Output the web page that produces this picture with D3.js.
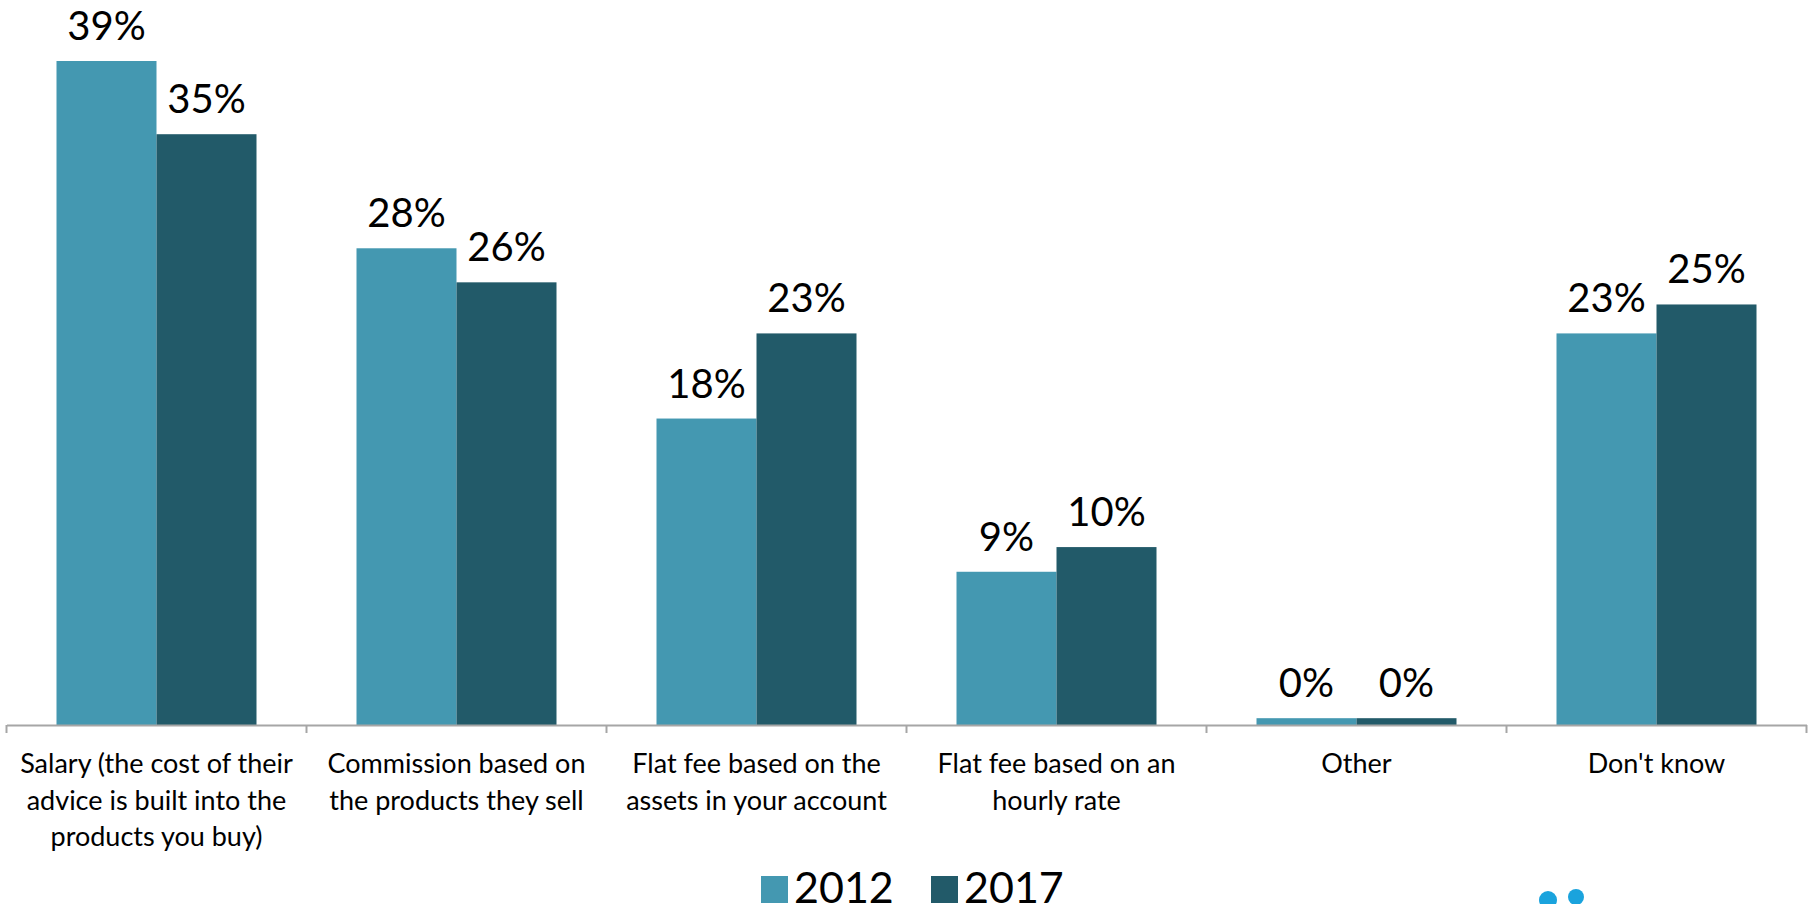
<!DOCTYPE html>
<html>
<head>
<meta charset="utf-8">
<script src="https://cdn.jsdelivr.net/npm/d3@7/dist/d3.min.js"></script>
<style>
  html, body { margin: 0; padding: 0; background: #ffffff; }
  svg { display: block; }
  text { font-family: Lato, "Open Sans", sans-serif; fill: #000; }
</style>
</head>
<body>
<svg id="chart" width="1810" height="904"></svg>
<script>
// ---- data ----
const categories = [
  "Salary (the cost of their\nadvice is built into the\nproducts you buy)",
  "Commission based on\nthe products they sell",
  "Flat fee based on the\nassets in your account",
  "Flat fee based on an\nhourly rate",
  "Other",
  "Don't know"
];
const seriesNames = ["2012", "2017"];
const values2012 = [39, 28, 18, 9, 0.4, 23];
const values2017 = [34.7, 26, 23, 10.45, 0.4, 24.7];
const seriesColors = ["#4498b1", "#225a69"];

// ---- layout ----
const plot = { left: 6.5, right: 1806.5, bottom: 725 };
const svg = d3.select("#chart");

const x = d3.scaleBand()
  .domain(categories)
  .range([plot.left, plot.right])
  .paddingInner(0).paddingOuter(0);

const xInner = d3.scaleBand()
  .domain(seriesNames)
  .range([x.bandwidth() / 6, x.bandwidth() * 5 / 6])
  .padding(0);

const y = d3.scaleLinear()
  .domain([0, 39])
  .range([plot.bottom, 61]);

const rows = categories.map((c, i) => ({
  cat: c,
  vals: [
    { s: seriesNames[0], v: values2012[i], c: seriesColors[0] },
    { s: seriesNames[1], v: values2017[i], c: seriesColors[1] }
  ]
}));

const groups = svg.append("g").selectAll("g.cat")
  .data(rows).join("g")
  .attr("class", "cat")
  .attr("transform", d => `translate(${x(d.cat)},0)`);

groups.selectAll("rect")
  .data(d => d.vals).join("rect")
  .attr("x", d => xInner(d.s))
  .attr("width", xInner.bandwidth())
  .attr("y", d => y(d.v))
  .attr("height", d => y(0) - y(d.v))
  .attr("fill", d => d.c);

const fmt = d3.format(".0f");
groups.selectAll("text.lbl")
  .data(d => d.vals).join("text")
  .attr("class", "lbl")
  .attr("x", d => xInner(d.s) + xInner.bandwidth() / 2)
  .attr("y", d => y(d.v) - 21)
  .attr("text-anchor", "middle")
  .style("font-size", "40px")
  .text(d => fmt(d.v) + "%");

// ---- x axis ----
const axis = d3.axisBottom(x).tickSize(0).tickFormat("");
const axisG = svg.append("g")
  .attr("transform", `translate(0,${plot.bottom})`)
  .call(axis);
axisG.select(".domain").attr("stroke", "#a6a6a6").attr("stroke-width", 2);
const boundaries = categories.map(c => x(c)).concat([plot.right]);
axisG.selectAll("line.bt")
  .data(boundaries).join("line")
  .attr("class", "bt")
  .attr("x1", d => d).attr("x2", d => d)
  .attr("y1", 0).attr("y2", 8)
  .attr("stroke", "#a6a6a6").attr("stroke-width", 2);

// category labels
const catLabels = svg.append("g").selectAll("text.cat")
  .data(categories).join("text")
  .attr("class", "cat")
  .attr("text-anchor", "middle")
  .style("font-size", "27px")
  .attr("x", d => x(d) + x.bandwidth() / 2)
  .attr("y", 773);
catLabels.selectAll("tspan")
  .data(d => d.split("\n")).join("tspan")
  .attr("x", function() { return d3.select(this.parentNode).attr("x"); })
  .attr("dy", (d, i) => i === 0 ? 0 : 36.5)
  .text(d => d);

// ---- legend ----
const legendX = [761, 931];
const leg = svg.append("g").selectAll("g.leg")
  .data(seriesNames).join("g")
  .attr("class", "leg")
  .attr("transform", (d, i) => `translate(${legendX[i]},876)`);
leg.append("rect")
  .attr("width", 27).attr("height", 27)
  .attr("fill", (d, i) => seriesColors[i]);
leg.append("text")
  .attr("x", 33).attr("y", 27)
  .style("font-size", "43px")
  .text(d => d);

// ---- logo dots (partially visible decoration) ----
const dots = [{ cx: 1548, cy: 900, r: 9 }, { cx: 1576, cy: 897, r: 8 }];
svg.append("g").selectAll("circle")
  .data(dots).join("circle")
  .attr("cx", d => d.cx).attr("cy", d => d.cy).attr("r", d => d.r)
  .attr("fill", "#1aa3dd");
</script>
</body>
</html>
